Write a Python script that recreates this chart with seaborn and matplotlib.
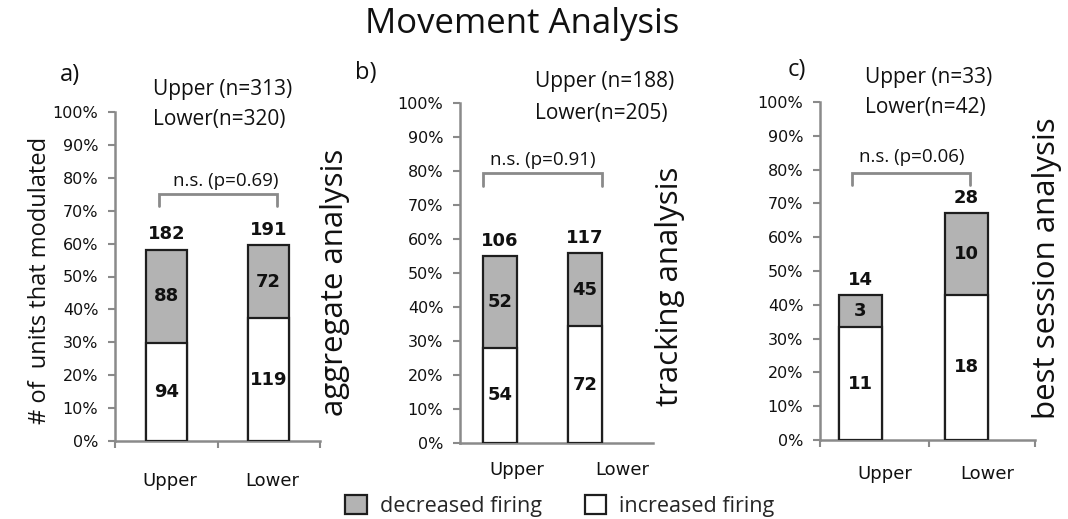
import numpy as np
import pandas as pd
import matplotlib
matplotlib.use("Agg")
import matplotlib.pyplot as plt
import seaborn as sns
from matplotlib.patches import Patch

# ---------------- data ----------------
groups = ["Upper", "Lower"]
panel_letters = ["a)", "b)", "c)"]
panel_names = ["aggregate analysis", "tracking analysis", "best session analysis"]

# percentages of units (increased firing segment / decreased firing segment)
inc_pct_a = [29.9, 37.3]
dec_pct_a = [28.3, 22.2]
inc_pct_b = [28.0, 34.3]
dec_pct_b = [27.0, 21.6]
inc_pct_c = [33.4, 42.9]
dec_pct_c = [9.4, 24.2]

# counts written on the bars
inc_cnt_a = [94, 119]
dec_cnt_a = [88, 72]
tot_cnt_a = [182, 191]
inc_cnt_b = [54, 72]
dec_cnt_b = [52, 45]
tot_cnt_b = [106, 117]
inc_cnt_c = [11, 18]
dec_cnt_c = [3, 10]
tot_cnt_c = [14, 28]

n_a = [313, 320]
n_b = [188, 205]
n_c = [33, 42]
p_a = "0.69"
p_b = "0.91"
p_c = "0.06"

y_ticks = [0, 10, 20, 30, 40, 50, 60, 70, 80, 90, 100]
y_tick_labels = [f"{v}%" for v in y_ticks]

title = "Movement Analysis"
y_label = "# of  units that modulated"
legend_labels = ["decreased firing", "increased firing"]

# ---------------- styling ----------------
sns.set_style("white")
plt.rcParams["font.family"] = ["Open Sans", "DejaVu Sans"]

W, H = 1068, 519
GRAY = "#b3b3b3"
EDGE = "#1e1e1e"
AXC = "#8a8a8a"
TXT = "#111111"
NUMFONT = "DejaVu Sans"


def fx(px):
    return px / W


def fy(py):
    return 1 - py / H


fig = plt.figure(figsize=(W / 100, H / 100), dpi=100)

panels = [
    dict(inc=inc_pct_a, dec=dec_pct_a, ci=inc_cnt_a, cd=dec_cnt_a, ct=tot_cnt_a, n=n_a, p=p_a,
         box=(115, 320, 112, 441), xlim=(-0.505, 1.505), width=0.4,
         xtickpos=[0.03, 1.04], xpad=22, minor=[-0.505, 0.5, 1.505],
         bracket=(-0.07, 1.08, 71.3, 75.0), ptext=(0.58, 79.0),
         npos=(153, 90, 120), letter=(70, 75), name=(335, 282)),
    dict(inc=inc_pct_b, dec=dec_pct_b, ci=inc_cnt_b, cd=dec_cnt_b, ct=tot_cnt_b, n=n_b, p=p_b,
         box=(460, 653, 103, 443), xlim=(-0.47, 1.8), width=0.4,
         xtickpos=[0.2, 1.435], xpad=13, minor=None,
         bracket=(-0.2, 1.2, 75.7, 79.5), ptext=(0.5, 83.3),
         npos=(535, 82, 113), letter=(366, 73), name=(670, 286)),
    dict(inc=inc_pct_c, dec=dec_pct_c, ci=inc_cnt_c, cd=dec_cnt_c, ct=tot_cnt_c, n=n_c, p=p_c,
         box=(820, 1035, 102, 440), xlim=(-0.38, 1.646), width=0.406,
         xtickpos=[0.23, 1.2], xpad=18, minor=[-0.38, 0.65, 1.646],
         bracket=(-0.08, 1.03, 75.5, 79.1), ptext=(0.48, 83.8),
         npos=(865, 77, 108), letter=(797, 70), name=(1047, 268)),
]

for k, pnl in enumerate(panels):
    l, r, t, b = pnl["box"]
    ax = fig.add_axes([fx(l), fy(b), (r - l) / W, (b - t) / H])
    df = pd.DataFrame({
        "group": groups,
        "inc": pnl["inc"],
        "top": np.add(pnl["inc"], pnl["dec"]),
    })
    sns.barplot(data=df, x="group", y="top", color=GRAY, saturation=1,
                edgecolor=EDGE, linewidth=1.6, width=pnl["width"],
                errorbar=None, ax=ax, zorder=2)
    sns.barplot(data=df, x="group", y="inc", color="white", saturation=1,
                edgecolor=EDGE, linewidth=1.6, width=pnl["width"],
                errorbar=None, ax=ax, zorder=3)

    ax.set_xlim(*pnl["xlim"])
    ax.set_ylim(0, 100)
    ax.set_xlabel("")
    ax.set_ylabel("")
    ax.set_facecolor("none")

    for side in ["top", "right"]:
        ax.spines[side].set_visible(False)
    for side in ["left", "bottom"]:
        ax.spines[side].set_color(AXC)
        ax.spines[side].set_linewidth(1.8)

    ax.set_yticks(y_ticks)
    ax.set_yticklabels(y_tick_labels, fontsize=11.5, family=NUMFONT, color=TXT)
    ax.tick_params(axis="y", direction="out", length=5, width=1.5, color=AXC,
                   pad=7, left=True)

    ax.set_xticks(pnl["xtickpos"])
    ax.set_xticklabels(groups, fontsize=13, family=NUMFONT, color=TXT)
    ax.tick_params(axis="x", which="major", length=0, pad=pnl["xpad"])
    if pnl["minor"] is not None:
        ax.set_xticks(pnl["minor"], minor=True)
        ax.tick_params(axis="x", which="minor", direction="out", length=5,
                       width=1.5, color=AXC, bottom=True)

    # numbers on the bars
    for i in range(len(groups)):
        inc = pnl["inc"][i]
        dec = pnl["dec"][i]
        ax.text(i, inc / 2, str(pnl["ci"][i]), ha="center", va="center",
                fontsize=13, fontweight="bold", family=NUMFONT, color=TXT, zorder=5)
        ax.text(i, inc + dec / 2, str(pnl["cd"][i]), ha="center", va="center",
                fontsize=13, fontweight="bold", family=NUMFONT, color=TXT, zorder=5)
        ax.annotate(str(pnl["ct"][i]), xy=(i, inc + dec), xytext=(0, 11),
                    textcoords="offset points", ha="center", va="center",
                    fontsize=13, fontweight="bold", family=NUMFONT, color=TXT,
                    annotation_clip=False)

    # significance bracket
    x0, x1, ylo, yhi = pnl["bracket"]
    ax.plot([x0, x0, x1, x1], [ylo, yhi, yhi, ylo], color=AXC, lw=2,
            clip_on=False, solid_joinstyle="miter")
    tx, ty = pnl["ptext"]
    ax.text(tx, ty, f"n.s. (p={pnl['p']})", ha="center", va="center",
            fontsize=13.5, color=TXT)

    # n labels
    nx, ny1, ny2 = pnl["npos"]
    fig.text(fx(nx), fy(ny1), f"Upper (n={pnl['n'][0]})", ha="left", va="center",
             fontsize=15, color=TXT)
    fig.text(fx(nx), fy(ny2), f"Lower(n={pnl['n'][1]})", ha="left", va="center",
             fontsize=15, color=TXT)

    lx, ly = pnl["letter"]
    fig.text(fx(lx), fy(ly), panel_letters[k], ha="center", va="center",
             fontsize=17, color=TXT)

    mx, my = pnl["name"]
    fig.text(fx(mx), fy(my), panel_names[k], ha="center", va="center",
             rotation=90, fontsize=22.5, color=TXT)

fig.text(fx(40), fy(280), y_label, ha="center", va="center", rotation=90,
         fontsize=17, color=TXT)
fig.text(fx(522), fy(33), title, ha="center", va="baseline", fontsize=25, color=TXT)

handles = [Patch(facecolor=GRAY, edgecolor=EDGE, linewidth=1.6),
           Patch(facecolor="white", edgecolor=EDGE, linewidth=1.6)]
fig.legend(handles, legend_labels, loc="center", bbox_to_anchor=(fx(560), fy(506)),
           ncol=2, frameon=False, fontsize=15.5, handlelength=1.0, handleheight=1.0,
           handletextpad=0.6, columnspacing=2.0)

fig.savefig("out.png", dpi=100)
